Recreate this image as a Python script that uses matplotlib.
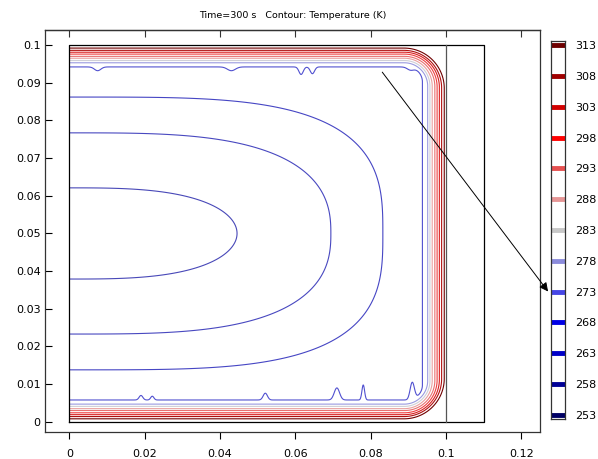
import numpy as np
import matplotlib
matplotlib.use('Agg')
import matplotlib.pyplot as plt

# contour levels (K) and their legend colours
levels = [253, 258, 263, 268, 273, 278, 283, 288, 293, 298, 303, 308, 313]
level_colors = ['#000064', '#000096', '#0000c8', '#0000e6', '#4646e6', '#8c8cdc',
                '#c8c8c8', '#e69696', '#e65050', '#ff0000', '#d20000', '#a00000',
                '#6e0000']

# inner closed contours: right extent, half height, exponents in x and y
inner_levels = [258, 263, 268]
inner_a = [0.0445, 0.0694, 0.0832]
inner_b = [0.0121, 0.0267, 0.0362]
inner_px = [3.0, 3.3, 3.8]
inner_qy = [2.0, 2.5, 3.0]
inner_colors = ['#4848b8', '#4848c0', '#4646c4']

# contours hugging the heated walls: half height, right edge, corner radius
wall_levels = [273, 278, 283, 288, 293, 298, 303, 308, 313]
wall_half = [0.0442, 0.0453, 0.0459, 0.0465, 0.0470, 0.0476, 0.0481, 0.0486, 0.0492]
wall_right = [0.0937, 0.0951, 0.0957, 0.0963, 0.0970, 0.0976, 0.0982, 0.0988, 0.0995]
wall_radius = [0.0040, 0.0062, 0.0068, 0.0074, 0.0080, 0.0087, 0.0093, 0.0100, 0.0107]
wall_colors = ['#5050d0', '#9a9ae0', '#cfcfd6', '#eaa0a0', '#e87070', '#f04040',
               '#d82020', '#b01010', '#700000']

# wiggles on the 273 K line: position, size, width
top_bump_x = [0.0075, 0.043, 0.0615, 0.0645, 0.0905]
top_bump_h = [0.0010, 0.0010, 0.0020, 0.0018, 0.0008]
top_bump_w = [0.0012, 0.0015, 0.0008, 0.0008, 0.0012]
bot_bump_x = [0.019, 0.022, 0.052, 0.071, 0.078, 0.091]
bot_bump_h = [0.0012, 0.0010, 0.0018, 0.0032, 0.0040, 0.0045]
bot_bump_w = [0.0007, 0.0006, 0.0008, 0.0010, 0.0005, 0.0008]

# geometry outline and the arrow
domain_x = [0, 0.11, 0.11, 0, 0]
domain_y = [0, 0, 0.1, 0.1, 0]
divider_x = 0.1
arrow_start = (0.0826, 0.0934)
arrow_end = (0.1275, 0.0340)

xticks = [0, 0.02, 0.04, 0.06, 0.08, 0.1, 0.12]
yticks = [0, 0.01, 0.02, 0.03, 0.04, 0.05, 0.06, 0.07, 0.08, 0.09, 0.1]
yc = 0.05

fig = plt.figure(figsize=(5.98, 4.59), dpi=100)
ax = fig.add_axes([45 / 598, 1 - 432 / 459, 495 / 598, 402 / 459])

x = np.linspace(0, 0.1, 1000)
y = np.linspace(0, 0.1, 1000)
X, Y = np.meshgrid(x, y)

# inner curves
for a, b, p, q, c in zip(inner_a, inner_b, inner_px, inner_qy, inner_colors):
    F = (X / a) ** p + (np.abs(Y - yc) / b) ** q - 1
    ax.contour(X, Y, F, levels=[0], colors=[c], linewidths=0.8)

# wall curves (rounded rectangle, open to the left)
for lev, hy, xr, r, c in zip(wall_levels, wall_half, wall_right, wall_radius, wall_colors):
    half = np.full_like(X, hy)
    if lev == 273:
        for bx, bh, bw in zip(top_bump_x, top_bump_h, top_bump_w):
            half -= bh * np.exp(-((X - bx) / bw) ** 2) * (Y > yc)
        for bx, bh, bw in zip(bot_bump_x, bot_bump_h, bot_bump_w):
            half -= bh * np.exp(-((X - bx) / bw) ** 2) * (Y < yc)
    qx = X - (xr - r)
    qy = np.abs(Y - yc) - (half - r)
    D = np.sqrt(np.maximum(qx, 0) ** 2 + np.maximum(qy, 0) ** 2) + np.minimum(np.maximum(qx, qy), 0) - r
    ax.contour(X, Y, D, levels=[0], colors=[c], linewidths=0.8)

ax.plot(domain_x, domain_y, color='black', lw=0.9)
ax.plot([divider_x, divider_x], [0, 0.1], color='#555555', lw=0.9)

ax.annotate('', xy=arrow_end, xytext=arrow_start, annotation_clip=False,
            arrowprops=dict(arrowstyle='-|>', color='black', lw=0.7, mutation_scale=13))

ax.set_xlim(-0.00636, 0.1248)
ax.set_ylim(-0.0027, 0.104)
ax.set_aspect('equal', adjustable='box')
ax.set_xticks(xticks)
ax.set_yticks(yticks)
ax.set_xticklabels(['%g' % v for v in xticks])
ax.set_yticklabels(['%g' % v for v in yticks])
ax.tick_params(axis='y', direction='in', length=5, labelsize=8)
ax.tick_params(axis='x', direction='out', length=5, labelsize=8, pad=7, top=False)
for s in ax.spines.values():
    s.set_color('#333333')
    s.set_linewidth(0.9)

# inward ticks along the top edge
top = ax.secondary_xaxis('top')
top.set_xticks(xticks)
top.tick_params(direction='in', length=5, labeltop=False, color='#333333')
top.spines['top'].set_color('#333333')
top.spines['top'].set_linewidth(0.9)

ax.set_title('Time=300 s   Contour: Temperature (K)', fontsize=6.8, pad=9)

# legend bar
cax = fig.add_axes([551 / 598, 1 - 419 / 459, 14 / 598, 378 / 459])
cax.hlines(levels, 0, 1, colors=level_colors, lw=3.5)
cax.set_xlim(0, 1)
cax.set_ylim(252.35, 313.65)
cax.set_xticks([])
cax.set_yticks(levels)
cax.yaxis.tick_right()
cax.tick_params(axis='y', direction='in', length=0, labelsize=8, pad=7)
for s in cax.spines.values():
    s.set_color('#333333')
    s.set_linewidth(0.9)

fig.savefig('out.png', dpi=100)
